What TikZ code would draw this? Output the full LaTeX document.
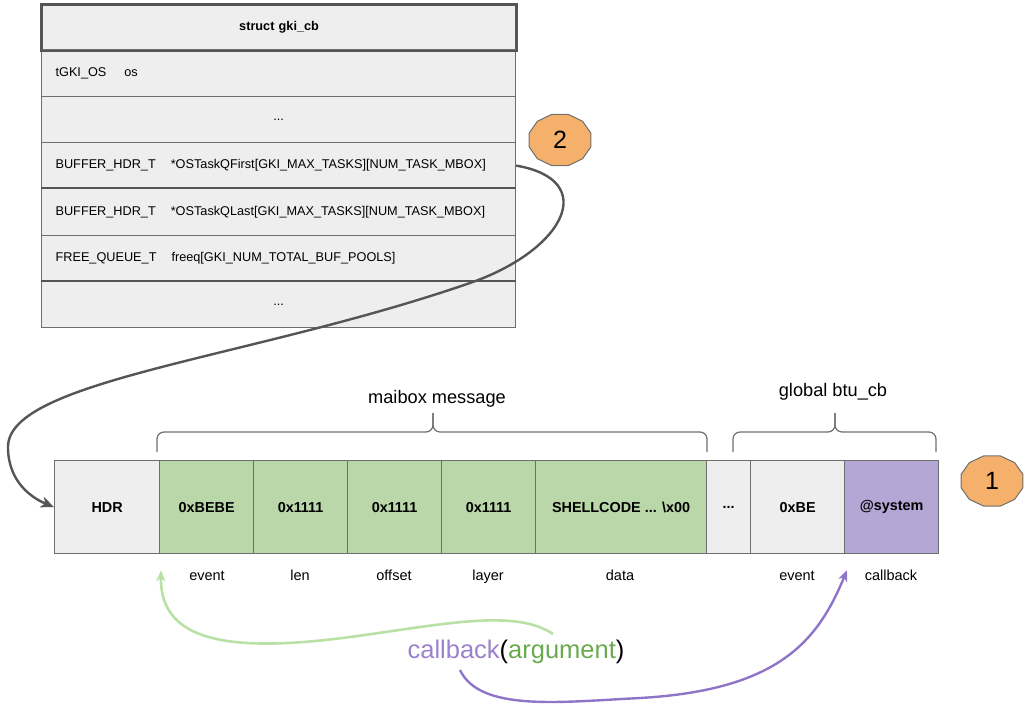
\documentclass[tikz,border=0pt]{standalone}
\usepackage{fontspec}
\setmainfont{Liberation Sans}
\usetikzlibrary{arrows.meta,calc}
\definecolor{cellgray}{HTML}{EEEEEE}
\definecolor{linegray}{HTML}{6E6E6E}
\definecolor{darkline}{HTML}{555555}
\definecolor{cellgreen}{HTML}{B9D7A8}
\definecolor{cellpurple}{HTML}{B4A7D6}
\definecolor{badgeorange}{HTML}{F5B06B}
\definecolor{curvegray}{HTML}{555555}
\definecolor{lightgreen}{HTML}{B9E0A5}
\definecolor{curvepurple}{HTML}{8F75C8}
\definecolor{textgreen}{HTML}{6AAA4F}
\definecolor{textpurple}{HTML}{9A82CC}
\begin{document}
\begin{tikzpicture}[x=1pt,y=-1pt,
  tablerow/.style={draw=linegray, fill=cellgray, line width=1.2pt, minimum width=474pt,
    inner ysep=0pt, inner xsep=14pt, text width=446pt, anchor=north west,
    font=\fontsize{12.7}{14}\selectfont},
  rowleft/.style={tablerow, align=left},
  rowcenter/.style={tablerow, align=center},
  cell/.style={draw=linegray, line width=1.2pt, minimum height=93pt, inner sep=0pt,
    anchor=north west, font=\bfseries\fontsize{14.4}{16}\selectfont},
  fieldlabel/.style={font=\fontsize{14.5}{16}\selectfont, inner sep=0pt, anchor=base},
  bracelabel/.style={font=\fontsize{18.2}{20}\selectfont, inner sep=0pt, anchor=base},
  bracepath/.style={draw=linegray, line width=1.2pt, rounded corners=7pt},
  badge/.style={draw=linegray, fill=badgeorange, line width=1pt},
  badgetext/.style={font=\fontsize{25}{28}\selectfont, inner sep=0pt},
  mainconn/.style={draw=curvegray, line width=2.4pt, -{Stealth[length=13pt,width=11pt,inset=3.5pt]}},
  greenconn/.style={draw=lightgreen, line width=2.6pt, -{Stealth[length=11pt,width=9pt,inset=3pt]}},
  purpleconn/.style={draw=curvepurple, line width=2.4pt, -{Stealth[length=11pt,width=9pt,inset=3pt]}}
]
\useasboundingbox (0,0) rectangle (1027,710);

% table
\node[rowcenter, minimum height=45pt, draw=darkline, line width=2.2pt, font=\bfseries\fontsize{12.7}{14}\selectfont] (r0) at (41,4) {struct gki\_cb};
\node[rowleft, minimum height=47pt] (r1) at (41,49) {tGKI\_OS\hspace{18pt}os};
\node[rowcenter, minimum height=46pt] (r2) at (41,96) {...};
\node[rowleft, minimum height=46pt] (r3) at (41,142) {BUFFER\_HDR\_T\hspace{15pt}*OSTaskQFirst[GKI\_MAX\_TASKS][NUM\_TASK\_MBOX]};
\node[rowleft, minimum height=47pt] (r4) at (41,188) {BUFFER\_HDR\_T\hspace{15pt}*OSTaskQLast[GKI\_MAX\_TASKS][NUM\_TASK\_MBOX]};
\node[rowleft, minimum height=46pt] (r5) at (41,235) {FREE\_QUEUE\_T\hspace{15pt}freeq[GKI\_NUM\_TOTAL\_BUF\_POOLS]};
\node[rowcenter, minimum height=46pt] (r6) at (41,281) {...};
\draw[draw=darkline, line width=2.2pt] (r4.north west) -- (r4.north east);
\draw[draw=darkline, line width=2.2pt] (r6.north west) -- (r6.north east);
\draw[draw=darkline, line width=2.2pt] (r0.north west) rectangle (r0.south east);

% badge 2
\draw[badge] plot[samples at={15,45,...,345}] ({560+32*cos(\x)},{140+26.5*sin(\x)}) -- cycle;
\node[badgetext] (b2) at (560,140) {2};

% memory row
\node[cell, fill=cellgray, minimum width=105pt] (hdr) at (54,460) {HDR};
\node[cell, fill=cellgreen, minimum width=94pt] (bebe) at (159,460) {0xBEBE};
\node[cell, fill=cellgreen, minimum width=94pt] (len) at (253,460) {0x1111};
\node[cell, fill=cellgreen, minimum width=94pt] (off) at (347,460) {0x1111};
\node[cell, fill=cellgreen, minimum width=94pt] (lay) at (441,460) {0x1111};
\node[cell, fill=cellgreen, minimum width=171pt] (shell) at (535,460) {SHELLCODE ... \textbackslash x00};
\node[cell, fill=cellgray, minimum width=44pt] (dots) at (706,460) {...};
\node[cell, fill=cellgray, minimum width=94pt] (be) at (750,460) {0xBE};
\node[cell, fill=cellpurple, minimum width=94pt] (sys) at (844,460) {@system};

% field labels
\node[fieldlabel] (lbevent) at (207,580) {event};
\node[fieldlabel] (lblen) at (300,580) {len};
\node[fieldlabel] (lboff) at (394,580) {offset};
\node[fieldlabel] (lblay) at (488,580) {layer};
\node[fieldlabel] (lbdata) at (620,580) {data};
\node[fieldlabel] (lbevent2) at (797,580) {event};
\node[fieldlabel] (lbcb) at (891,580) {callback};

% braces
\draw[bracepath] (157,452) -- (157,432) -- (433,432) -- (433,413);
\draw[bracepath] (433,413) -- (433,432) -- (707,432) -- (707,452);
\node[bracelabel] (lmsg) at (437,403) {maibox message};
\draw[bracepath] (733,452) -- (733,432) -- (835,432) -- (835,413);
\draw[bracepath] (835,413) -- (835,432) -- (936,432) -- (936,452);
\node[bracelabel] (lbtu) at (833,396) {global btu\_cb};

% badge 1
\draw[badge] plot[samples at={15,45,...,345}] ({992+32*cos(\x)},{481+26*sin(\x)}) -- cycle;
\node[badgetext] (b1) at (992,481) {1};

% main connector
\draw[mainconn] (r3.east) .. controls (600,180) and (565,250) .. (470,283)
  .. controls (250,359) and (8,380) .. (8,447)
  .. controls (8,482) and (32,498) .. (hdr.west);

% callback(argument)
\node[inner sep=0pt, font=\fontsize{25.5}{28}\selectfont] (cbarg) at (516,652)
  {{\color{textpurple}callback}({\color{textgreen}argument})};
\coordinate (gstart) at (553,634);
\coordinate (gtip) at ($(bebe.south west)+(2,16)$);
\coordinate (pstart) at (460,670);
\coordinate (ptip) at ($(sys.south west)+(3,16)$);
\draw[greenconn] (gstart) .. controls (515,608) and (440,625) .. (350,637)
  .. controls (230,653) and (160,642) .. (gtip);
\draw[purpleconn] (pstart) .. controls (480,712) and (560,702) .. (640,698)
  .. controls (780,690) and (818,640) .. (ptip);
\end{tikzpicture}
\end{document}
